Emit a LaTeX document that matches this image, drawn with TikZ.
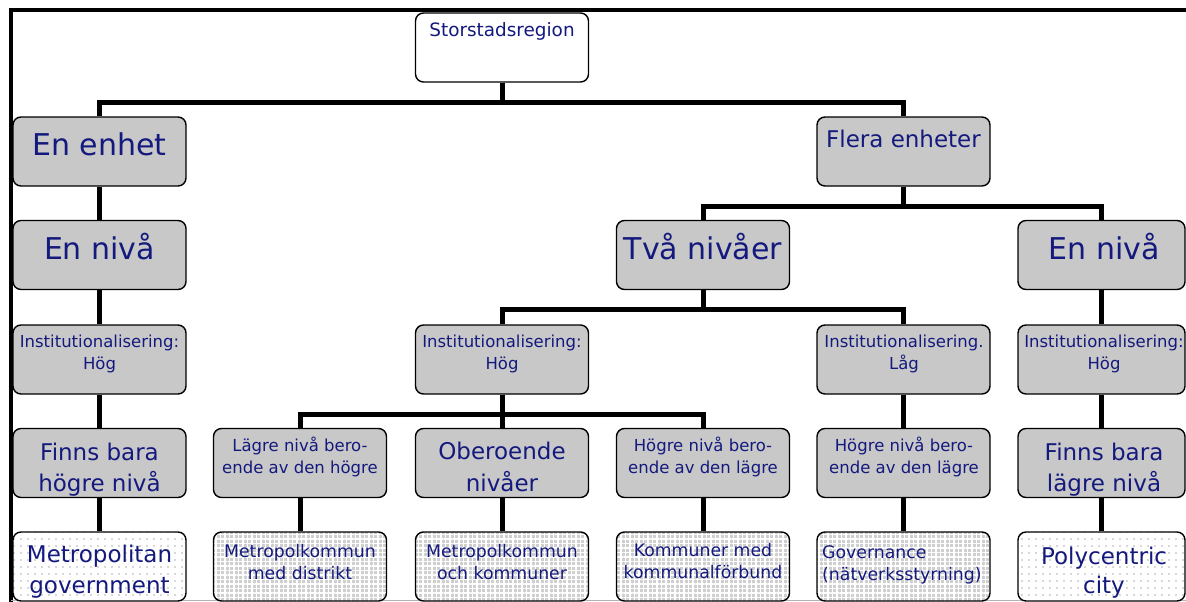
\documentclass[tikz,border=0pt]{standalone}
\usepackage{fontspec}
\setmainfont{DejaVu Sans}
\usetikzlibrary{patterns.meta}
\definecolor{navytext}{RGB}{20,25,125}
\definecolor{boxgray}{RGB}{200,200,200}

\begin{document}
\begin{tikzpicture}[x=1pt, y=-1pt,
    box/.style={draw, rounded corners=8pt, line width=1.4pt, minimum width=173pt, minimum height=69pt, inner sep=0pt},
    grybox/.style={box, fill=boxgray},
    whtbox/.style={box, fill=white},
    dotbox/.style={box, preaction={fill=white}, pattern={Dots[distance=7pt, radius=0.9pt]}, pattern color=gray!60},
    chkbox/.style={box, preaction={fill=gray!38}, pattern={Hatch[distance=4.5pt, line width=1.6pt]}, pattern color=white},
    txt/.style={text=navytext, anchor=base, align=center, inner sep=0pt},
    big/.style={txt, font=\fontsize{30}{36}\selectfont},
    mid/.style={txt, font=\fontsize{23}{31}\selectfont},
    toptxt/.style={txt, font=\fontsize{18.4}{22}\selectfont},
    small/.style={txt, font=\fontsize{16.5}{21.5}\selectfont},
    leaf/.style={txt, font=\fontsize{17.3}{22}\selectfont},
    conn/.style={line width=5pt}
]
    \useasboundingbox (0,0) rectangle (1186,602);
    \clip (0,0) rectangle (1186,602);

    % frame
    \draw[line width=3.5pt] (11,604) -- (11,10) -- (1190,10);
    \draw[gray!60, line width=1pt] (11,600.5) -- (1186,600.5);

    % boxes
    \node[whtbox] (stor) at (502,47.5) {};
    \node[grybox] (enhet) at (99.5,151.5) {};
    \node[grybox] (flera) at (903.5,151.5) {};
    \node[grybox] (niva1) at (99.5,255) {};
    \node[grybox] (tva) at (703,255) {};
    \node[grybox, minimum width=167pt] (niva2) at (1101.5,255) {};
    \node[grybox] (inst1) at (99.5,359.5) {};
    \node[grybox] (inst2) at (502,359.5) {};
    \node[grybox] (inst3) at (903.5,359.5) {};
    \node[grybox, minimum width=167pt] (inst4) at (1101.5,359.5) {};
    \node[grybox] (finns1) at (99.5,463) {};
    \node[grybox] (lagre) at (300,463) {};
    \node[grybox] (ober) at (502,463) {};
    \node[grybox] (hogre1) at (703,463) {};
    \node[grybox] (hogre2) at (903.5,463) {};
    \node[grybox, minimum width=167pt] (finns2) at (1101.5,463) {};
    \node[dotbox] (metro) at (99.5,566.5) {};
    \node[chkbox] (distr) at (300,566.5) {};
    \node[chkbox] (komm) at (502,566.5) {};
    \node[chkbox] (forb) at (703,566.5) {};
    \node[chkbox] (gov) at (903.5,566.5) {};
    \node[dotbox, minimum width=167pt] (poly) at (1101.5,566.5) {};

    % texts (base = last line)
    \node[toptxt] (stor-t) at (502,37) {Storstadsregion};
    \node[big] (enhet-t) at (99.5,155) {En enhet};
    \node[mid] (flera-t) at (903.5,147) {Flera enheter};
    \node[big] (niva1-t) at (99.5,259) {En nivå};
    \node[big] (tva-t) at (703,259) {Två nivåer};
    \node[big] (niva2-t) at (1104,259) {En nivå};
    \node[small] (inst1-t) at (99.5,369) {Institutionalisering:\\Hög};
    \node[small] (inst2-t) at (502,369) {Institutionalisering:\\Hög};
    \node[small] (inst3-t) at (904,369) {Institutionalisering.\\Låg};
    \node[small] (inst4-t) at (1104,369) {Institutionalisering:\\Hög};
    \node[mid] (finns1-t) at (99.5,491) {Finns bara\\högre nivå};
    \node[small] (lagre-t) at (300,473) {Lägre nivå bero-\\ende av den högre};
    \node[mid, font=\fontsize{23}{32}\selectfont] (ober-t) at (502,491) {Oberoende\\nivåer};
    \node[small] (hogre1-t) at (703,473) {Högre nivå bero-\\ende av den lägre};
    \node[small] (hogre2-t) at (904,473) {Högre nivå bero-\\ende av den lägre};
    \node[mid] (finns2-t) at (1104,491) {Finns bara\\lägre nivå};
    \node[mid] (metro-t) at (99.5,593) {Metropolitan\\government};
    \node[leaf] (distr-t) at (300,579) {Metropolkommun\\med distrikt};
    \node[leaf] (komm-t) at (502,579) {Metropolkommun\\och kommuner};
    \node[leaf] (forb-t) at (703,578) {Kommuner med\\kommunalförbund};
    \node[leaf, anchor=base west, align=left] (gov-t) at (822,580) {Governance\\(nätverksstyrning)};
    \node[mid, font=\fontsize{23}{29}\selectfont] (poly-t) at (1104,593) {Polycentric\\city};

    % connectors
    \coordinate (bus1) at (502,102);
    \coordinate (bus2) at (903.5,206);
    \coordinate (bus3) at (703,309.5);
    \coordinate (bus4) at (502,414);
    \draw[conn] (stor.south) -- (bus1);
    \draw[conn] (enhet.north) |- (bus1) -| (flera.north);
    \draw[conn] (flera.south) -- (bus2);
    \draw[conn] (tva.north) |- (bus2) -| (niva2.north);
    \draw[conn] (tva.south) -- (bus3);
    \draw[conn] (inst2.north) |- (bus3) -| (inst3.north);
    \draw[conn] (inst2.south) -- (bus4);
    \draw[conn] (lagre.north) |- (bus4) -| (hogre1.north);
    \draw[conn] (bus4) -- (ober.north);
    \draw[conn] (enhet) -- (niva1);
    \draw[conn] (niva1) -- (inst1);
    \draw[conn] (inst1) -- (finns1);
    \draw[conn] (finns1) -- (metro);
    \draw[conn] (lagre) -- (distr);
    \draw[conn] (ober) -- (komm);
    \draw[conn] (hogre1) -- (forb);
    \draw[conn] (inst3) -- (hogre2);
    \draw[conn] (hogre2) -- (gov);
    \draw[conn] (niva2) -- (inst4);
    \draw[conn] (inst4) -- (finns2);
    \draw[conn] (finns2) -- (poly);
\end{tikzpicture}
\end{document}
